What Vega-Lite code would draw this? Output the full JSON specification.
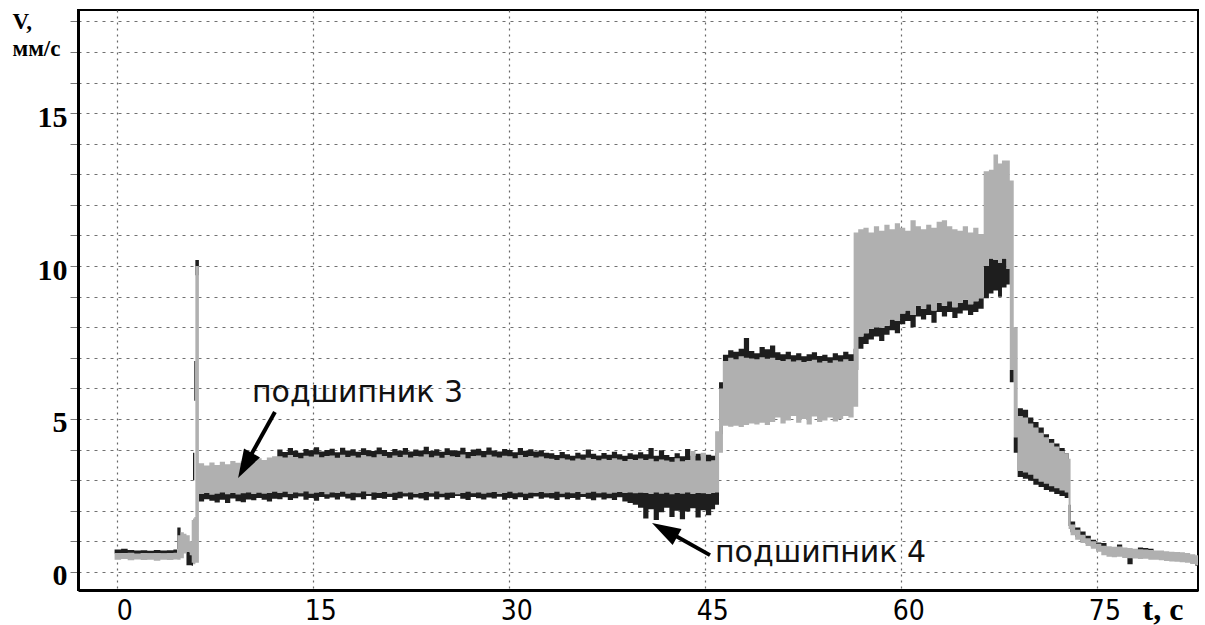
{
  "$schema": "https://vega.github.io/schema/vega-lite/v6.json",
  "width": 1120,
  "height": 580,
  "autosize": {"type": "none"},
  "padding": {"left": 78, "top": 10, "right": 7, "bottom": 35},
  "background": "white",
  "config": {"view": {"stroke": "black", "strokeWidth": 2}},
  "datasets": {
    "bearing4": [
      {"t": -0.2, "lo": 0.60, "hi": 0.73}, {"t": 0.3, "lo": 0.61, "hi": 0.76}, {"t": 0.8, "lo": 0.60, "hi": 0.72},
      {"t": 1.3, "lo": 0.59, "hi": 0.70}, {"t": 1.8, "lo": 0.60, "hi": 0.71}, {"t": 2.3, "lo": 0.60, "hi": 0.69},
      {"t": 2.8, "lo": 0.61, "hi": 0.72}, {"t": 3.3, "lo": 0.60, "hi": 0.70}, {"t": 3.8, "lo": 0.60, "hi": 0.71},
      {"t": 4.3, "lo": 0.61, "hi": 0.73}, {"t": 4.6, "lo": 0.75, "hi": 1.45}, {"t": 4.85, "lo": 0.80, "hi": 1.10},
      {"t": 5.1, "lo": 0.70, "hi": 0.95}, {"t": 5.3, "lo": 0.22, "hi": 0.70}, {"t": 5.55, "lo": 0.22, "hi": 0.62},
      {"t": 5.7, "lo": 0.20, "hi": 0.55}, {"t": 5.8, "lo": 3.00, "hi": 3.90}, {"t": 5.9, "lo": 5.60, "hi": 6.90},
      {"t": 5.98, "lo": 9.70, "hi": 10.20}, {"t": 6.25, "lo": 2.30, "hi": 3.30}, {"t": 6.65, "lo": 2.38, "hi": 3.35},
      {"t": 7.05, "lo": 2.33, "hi": 3.40}, {"t": 7.45, "lo": 2.27, "hi": 3.35}, {"t": 7.85, "lo": 2.36, "hi": 3.40},
      {"t": 8.25, "lo": 2.25, "hi": 3.45}, {"t": 8.65, "lo": 2.40, "hi": 3.40}, {"t": 9.05, "lo": 2.31, "hi": 3.45},
      {"t": 9.45, "lo": 2.28, "hi": 3.50}, {"t": 9.85, "lo": 2.37, "hi": 3.50}, {"t": 10.25, "lo": 2.34, "hi": 3.55},
      {"t": 10.65, "lo": 2.42, "hi": 3.60}, {"t": 11.05, "lo": 2.36, "hi": 3.60}, {"t": 11.45, "lo": 2.30, "hi": 3.65},
      {"t": 11.85, "lo": 2.39, "hi": 3.70}, {"t": 12.25, "lo": 2.38, "hi": 4.00}, {"t": 12.65, "lo": 2.44, "hi": 3.92},
      {"t": 13.05, "lo": 2.35, "hi": 4.05}, {"t": 13.45, "lo": 2.41, "hi": 3.96}, {"t": 13.85, "lo": 2.47, "hi": 3.90},
      {"t": 14.25, "lo": 2.36, "hi": 4.02}, {"t": 14.65, "lo": 2.42, "hi": 3.98}, {"t": 15.05, "lo": 2.33, "hi": 4.08},
      {"t": 15.45, "lo": 2.45, "hi": 3.94}, {"t": 15.85, "lo": 2.39, "hi": 3.99}, {"t": 16.25, "lo": 2.43, "hi": 4.03},
      {"t": 16.65, "lo": 2.37, "hi": 3.91}, {"t": 17.05, "lo": 2.46, "hi": 4.06}, {"t": 17.45, "lo": 2.40, "hi": 3.97},
      {"t": 17.85, "lo": 2.34, "hi": 4.01}, {"t": 18.25, "lo": 2.44, "hi": 3.93}, {"t": 18.65, "lo": 2.38, "hi": 4.04},
      {"t": 19.05, "lo": 2.48, "hi": 3.98}, {"t": 19.45, "lo": 2.36, "hi": 3.95}, {"t": 19.85, "lo": 2.42, "hi": 4.07},
      {"t": 20.25, "lo": 2.39, "hi": 3.99}, {"t": 20.65, "lo": 2.45, "hi": 3.92}, {"t": 21.05, "lo": 2.35, "hi": 4.02},
      {"t": 21.45, "lo": 2.41, "hi": 3.96}, {"t": 21.85, "lo": 2.47, "hi": 4.05}, {"t": 22.25, "lo": 2.37, "hi": 3.94},
      {"t": 22.65, "lo": 2.43, "hi": 4.00}, {"t": 23.05, "lo": 2.40, "hi": 3.97}, {"t": 23.45, "lo": 2.34, "hi": 4.09},
      {"t": 23.85, "lo": 2.46, "hi": 3.95}, {"t": 24.25, "lo": 2.38, "hi": 4.01}, {"t": 24.65, "lo": 2.44, "hi": 3.93},
      {"t": 25.05, "lo": 2.36, "hi": 4.04}, {"t": 25.45, "lo": 2.42, "hi": 3.98}, {"t": 25.85, "lo": 2.48, "hi": 3.96},
      {"t": 26.25, "lo": 2.39, "hi": 4.06}, {"t": 26.65, "lo": 2.35, "hi": 3.92}, {"t": 27.05, "lo": 2.45, "hi": 4.00},
      {"t": 27.45, "lo": 2.41, "hi": 4.03}, {"t": 27.85, "lo": 2.37, "hi": 3.95}, {"t": 28.25, "lo": 2.43, "hi": 4.07},
      {"t": 28.65, "lo": 2.40, "hi": 3.97}, {"t": 29.05, "lo": 2.46, "hi": 3.94}, {"t": 29.45, "lo": 2.36, "hi": 4.02},
      {"t": 29.85, "lo": 2.42, "hi": 3.99}, {"t": 30.25, "lo": 2.38, "hi": 3.91}, {"t": 30.65, "lo": 2.44, "hi": 4.05},
      {"t": 31.05, "lo": 2.35, "hi": 3.96}, {"t": 31.45, "lo": 2.41, "hi": 4.01}, {"t": 31.85, "lo": 2.47, "hi": 3.94},
      {"t": 32.25, "lo": 2.39, "hi": 3.98}, {"t": 32.65, "lo": 2.43, "hi": 3.90}, {"t": 33.05, "lo": 2.40, "hi": 3.88},
      {"t": 33.45, "lo": 2.35, "hi": 3.82}, {"t": 33.85, "lo": 2.44, "hi": 3.92}, {"t": 34.25, "lo": 2.38, "hi": 3.85},
      {"t": 34.65, "lo": 2.42, "hi": 3.80}, {"t": 35.05, "lo": 2.36, "hi": 3.90}, {"t": 35.45, "lo": 2.45, "hi": 3.84},
      {"t": 35.85, "lo": 2.39, "hi": 4.00}, {"t": 36.25, "lo": 2.34, "hi": 3.86}, {"t": 36.65, "lo": 2.43, "hi": 3.81},
      {"t": 37.05, "lo": 2.37, "hi": 3.89}, {"t": 37.45, "lo": 2.41, "hi": 3.83}, {"t": 37.85, "lo": 2.35, "hi": 3.93},
      {"t": 38.25, "lo": 2.44, "hi": 3.85}, {"t": 38.65, "lo": 2.30, "hi": 3.80}, {"t": 39.05, "lo": 2.25, "hi": 3.88},
      {"t": 39.45, "lo": 2.20, "hi": 3.84}, {"t": 39.85, "lo": 2.10, "hi": 3.91}, {"t": 40.25, "lo": 1.75, "hi": 3.85},
      {"t": 40.65, "lo": 2.05, "hi": 4.05}, {"t": 41.05, "lo": 1.70, "hi": 3.80}, {"t": 41.45, "lo": 1.95, "hi": 3.98},
      {"t": 41.85, "lo": 2.10, "hi": 3.82}, {"t": 42.25, "lo": 1.80, "hi": 3.76}, {"t": 42.65, "lo": 2.00, "hi": 3.88},
      {"t": 43.05, "lo": 1.72, "hi": 3.78}, {"t": 43.45, "lo": 1.98, "hi": 4.02}, {"t": 43.85, "lo": 2.08, "hi": 3.80},
      {"t": 44.25, "lo": 1.78, "hi": 3.86}, {"t": 44.65, "lo": 2.02, "hi": 3.77}, {"t": 45.05, "lo": 1.85, "hi": 3.83},
      {"t": 45.45, "lo": 2.05, "hi": 3.80}, {"t": 45.75, "lo": 2.20, "hi": 3.90}, {"t": 46.05, "lo": 4.50, "hi": 6.20},
      {"t": 46.35, "lo": 5.50, "hi": 7.10}, {"t": 46.75, "lo": 5.50, "hi": 7.25}, {"t": 47.15, "lo": 5.50, "hi": 7.20},
      {"t": 47.55, "lo": 5.50, "hi": 7.30}, {"t": 47.95, "lo": 5.50, "hi": 7.65}, {"t": 48.35, "lo": 5.50, "hi": 7.22},
      {"t": 48.75, "lo": 5.50, "hi": 7.15}, {"t": 49.15, "lo": 5.50, "hi": 7.35}, {"t": 49.55, "lo": 5.50, "hi": 7.28},
      {"t": 49.95, "lo": 5.50, "hi": 7.40}, {"t": 50.35, "lo": 5.50, "hi": 7.18}, {"t": 50.75, "lo": 5.50, "hi": 7.12},
      {"t": 51.15, "lo": 5.50, "hi": 7.20}, {"t": 51.55, "lo": 5.50, "hi": 7.08}, {"t": 51.95, "lo": 5.50, "hi": 7.15},
      {"t": 52.35, "lo": 5.50, "hi": 7.05}, {"t": 52.75, "lo": 5.50, "hi": 7.12}, {"t": 53.15, "lo": 5.50, "hi": 7.18},
      {"t": 53.55, "lo": 5.50, "hi": 7.06}, {"t": 53.95, "lo": 5.50, "hi": 7.10}, {"t": 54.35, "lo": 5.50, "hi": 7.02},
      {"t": 54.75, "lo": 5.50, "hi": 7.15}, {"t": 55.15, "lo": 5.50, "hi": 7.08}, {"t": 55.55, "lo": 5.50, "hi": 7.20},
      {"t": 55.95, "lo": 5.50, "hi": 7.12}, {"t": 56.35, "lo": 6.60, "hi": 7.30}, {"t": 56.7, "lo": 7.30, "hi": 7.70},
      {"t": 57.1, "lo": 7.45, "hi": 7.80}, {"t": 57.5, "lo": 7.60, "hi": 7.95}, {"t": 57.9, "lo": 7.70, "hi": 8.00},
      {"t": 58.3, "lo": 7.55, "hi": 7.98}, {"t": 58.7, "lo": 7.75, "hi": 8.05}, {"t": 59.1, "lo": 7.90, "hi": 8.25},
      {"t": 59.5, "lo": 7.80, "hi": 8.20}, {"t": 59.9, "lo": 8.10, "hi": 8.45}, {"t": 60.3, "lo": 8.20, "hi": 8.55},
      {"t": 60.7, "lo": 8.00, "hi": 8.40}, {"t": 61.1, "lo": 8.35, "hi": 8.70}, {"t": 61.5, "lo": 8.25, "hi": 8.60},
      {"t": 61.9, "lo": 8.40, "hi": 8.75}, {"t": 62.3, "lo": 8.15, "hi": 8.55}, {"t": 62.7, "lo": 8.50, "hi": 8.80},
      {"t": 63.1, "lo": 8.35, "hi": 8.70}, {"t": 63.5, "lo": 8.50, "hi": 8.85}, {"t": 63.9, "lo": 8.30, "hi": 8.65},
      {"t": 64.3, "lo": 8.45, "hi": 8.80}, {"t": 64.7, "lo": 8.55, "hi": 8.90}, {"t": 65.1, "lo": 8.40, "hi": 8.75},
      {"t": 65.5, "lo": 8.50, "hi": 8.85}, {"t": 65.9, "lo": 8.60, "hi": 8.95}, {"t": 66.3, "lo": 8.95, "hi": 10.00},
      {"t": 66.7, "lo": 9.10, "hi": 10.25}, {"t": 67.05, "lo": 9.20, "hi": 10.20}, {"t": 67.4, "lo": 9.00, "hi": 10.10},
      {"t": 67.7, "lo": 9.30, "hi": 10.25}, {"t": 68.05, "lo": 9.40, "hi": 9.90}, {"t": 68.3, "lo": 6.20, "hi": 6.60},
      {"t": 68.6, "lo": 3.90, "hi": 4.40}, {"t": 68.9, "lo": 3.10, "hi": 5.35}, {"t": 69.3, "lo": 3.05, "hi": 5.30},
      {"t": 69.7, "lo": 2.98, "hi": 5.05}, {"t": 70.1, "lo": 2.85, "hi": 4.90}, {"t": 70.5, "lo": 2.78, "hi": 4.72},
      {"t": 70.9, "lo": 2.68, "hi": 4.50}, {"t": 71.3, "lo": 2.62, "hi": 4.35}, {"t": 71.7, "lo": 2.55, "hi": 4.20},
      {"t": 72.1, "lo": 2.48, "hi": 4.05}, {"t": 72.5, "lo": 2.42, "hi": 3.88}, {"t": 72.8, "lo": 1.50, "hi": 2.20},
      {"t": 72.95, "lo": 1.30, "hi": 1.65}, {"t": 73.3, "lo": 1.15, "hi": 1.45}, {"t": 73.7, "lo": 1.02, "hi": 1.32},
      {"t": 74.1, "lo": 0.92, "hi": 1.18}, {"t": 74.5, "lo": 0.82, "hi": 1.05}, {"t": 74.9, "lo": 0.72, "hi": 0.96},
      {"t": 75.3, "lo": 0.70, "hi": 0.95}, {"t": 75.7, "lo": 0.60, "hi": 0.75}, {"t": 76.1, "lo": 0.62, "hi": 0.80},
      {"t": 76.5, "lo": 0.65, "hi": 0.90}, {"t": 76.9, "lo": 0.55, "hi": 0.70}, {"t": 77.3, "lo": 0.25, "hi": 0.60},
      {"t": 77.7, "lo": 0.52, "hi": 0.68}, {"t": 78.1, "lo": 0.60, "hi": 0.80}, {"t": 78.5, "lo": 0.62, "hi": 0.78},
      {"t": 78.9, "lo": 0.58, "hi": 0.76}, {"t": 79.3, "lo": 0.50, "hi": 0.65}, {"t": 79.7, "lo": 0.48, "hi": 0.62},
      {"t": 80.1, "lo": 0.45, "hi": 0.60}, {"t": 80.5, "lo": 0.44, "hi": 0.58}, {"t": 80.9, "lo": 0.50, "hi": 0.64},
      {"t": 81.3, "lo": 0.48, "hi": 0.62}, {"t": 81.7, "lo": 0.40, "hi": 0.55}, {"t": 82.1, "lo": 0.30, "hi": 0.50},
      {"t": 82.5, "lo": 0.20, "hi": 0.45}, {"t": 82.7, "lo": 0.20, "hi": 0.45}
    ],
    "bearing3": [
      {"t": -0.2, "lo": 0.40, "hi": 0.62}, {"t": 0.3, "lo": 0.42, "hi": 0.61}, {"t": 0.8, "lo": 0.38, "hi": 0.63},
      {"t": 1.3, "lo": 0.41, "hi": 0.60}, {"t": 1.8, "lo": 0.39, "hi": 0.62}, {"t": 2.3, "lo": 0.40, "hi": 0.61},
      {"t": 2.8, "lo": 0.37, "hi": 0.62}, {"t": 3.3, "lo": 0.40, "hi": 0.60}, {"t": 3.8, "lo": 0.39, "hi": 0.62},
      {"t": 4.3, "lo": 0.41, "hi": 0.63}, {"t": 4.6, "lo": 0.40, "hi": 1.20}, {"t": 4.85, "lo": 0.45, "hi": 1.30},
      {"t": 5.1, "lo": 0.60, "hi": 1.25}, {"t": 5.3, "lo": 0.65, "hi": 1.20}, {"t": 5.55, "lo": 0.55, "hi": 1.00},
      {"t": 5.7, "lo": 0.30, "hi": 1.70}, {"t": 5.8, "lo": 0.25, "hi": 1.75}, {"t": 5.9, "lo": 0.25, "hi": 1.80},
      {"t": 5.98, "lo": 0.30, "hi": 10.00}, {"t": 6.25, "lo": 2.55, "hi": 3.55}, {"t": 6.65, "lo": 2.58, "hi": 3.48},
      {"t": 7.05, "lo": 2.52, "hi": 3.58}, {"t": 7.45, "lo": 2.56, "hi": 3.50}, {"t": 7.85, "lo": 2.60, "hi": 3.60},
      {"t": 8.25, "lo": 2.54, "hi": 3.52}, {"t": 8.65, "lo": 2.58, "hi": 3.63}, {"t": 9.05, "lo": 2.53, "hi": 3.57},
      {"t": 9.45, "lo": 2.57, "hi": 3.62}, {"t": 9.85, "lo": 2.60, "hi": 3.68}, {"t": 10.25, "lo": 2.55, "hi": 3.61},
      {"t": 10.65, "lo": 2.59, "hi": 3.72}, {"t": 11.05, "lo": 2.56, "hi": 3.66}, {"t": 11.45, "lo": 2.58, "hi": 3.74},
      {"t": 11.85, "lo": 2.62, "hi": 3.78}, {"t": 12.25, "lo": 2.58, "hi": 3.78}, {"t": 12.65, "lo": 2.62, "hi": 3.74},
      {"t": 13.05, "lo": 2.55, "hi": 3.82}, {"t": 13.45, "lo": 2.60, "hi": 3.76}, {"t": 13.85, "lo": 2.57, "hi": 3.72},
      {"t": 14.25, "lo": 2.63, "hi": 3.80}, {"t": 14.65, "lo": 2.56, "hi": 3.77}, {"t": 15.05, "lo": 2.59, "hi": 3.84},
      {"t": 15.45, "lo": 2.61, "hi": 3.75}, {"t": 15.85, "lo": 2.54, "hi": 3.79}, {"t": 16.25, "lo": 2.60, "hi": 3.81},
      {"t": 16.65, "lo": 2.58, "hi": 3.73}, {"t": 17.05, "lo": 2.62, "hi": 3.83}, {"t": 17.45, "lo": 2.56, "hi": 3.76},
      {"t": 17.85, "lo": 2.59, "hi": 3.80}, {"t": 18.25, "lo": 2.57, "hi": 3.74}, {"t": 18.65, "lo": 2.63, "hi": 3.82},
      {"t": 19.05, "lo": 2.55, "hi": 3.78}, {"t": 19.45, "lo": 2.60, "hi": 3.75}, {"t": 19.85, "lo": 2.58, "hi": 3.85},
      {"t": 20.25, "lo": 2.61, "hi": 3.79}, {"t": 20.65, "lo": 2.56, "hi": 3.73}, {"t": 21.05, "lo": 2.59, "hi": 3.81},
      {"t": 21.45, "lo": 2.62, "hi": 3.76}, {"t": 21.85, "lo": 2.57, "hi": 3.83}, {"t": 22.25, "lo": 2.60, "hi": 3.74},
      {"t": 22.65, "lo": 2.55, "hi": 3.79}, {"t": 23.05, "lo": 2.58, "hi": 3.77}, {"t": 23.45, "lo": 2.61, "hi": 3.85},
      {"t": 23.85, "lo": 2.57, "hi": 3.75}, {"t": 24.25, "lo": 2.63, "hi": 3.80}, {"t": 24.65, "lo": 2.56, "hi": 3.73},
      {"t": 25.05, "lo": 2.59, "hi": 3.82}, {"t": 25.45, "lo": 2.60, "hi": 3.78}, {"t": 25.85, "lo": 2.54, "hi": 3.76},
      {"t": 26.25, "lo": 2.58, "hi": 3.84}, {"t": 26.65, "lo": 2.62, "hi": 3.72}, {"t": 27.05, "lo": 2.57, "hi": 3.79},
      {"t": 27.45, "lo": 2.60, "hi": 3.81}, {"t": 27.85, "lo": 2.56, "hi": 3.75}, {"t": 28.25, "lo": 2.59, "hi": 3.83},
      {"t": 28.65, "lo": 2.61, "hi": 3.77}, {"t": 29.05, "lo": 2.55, "hi": 3.74}, {"t": 29.45, "lo": 2.58, "hi": 3.80},
      {"t": 29.85, "lo": 2.62, "hi": 3.78}, {"t": 30.25, "lo": 2.57, "hi": 3.72}, {"t": 30.65, "lo": 2.60, "hi": 3.82},
      {"t": 31.05, "lo": 2.56, "hi": 3.76}, {"t": 31.45, "lo": 2.59, "hi": 3.79}, {"t": 31.85, "lo": 2.58, "hi": 3.74},
      {"t": 32.25, "lo": 2.61, "hi": 3.77}, {"t": 32.65, "lo": 2.57, "hi": 3.72}, {"t": 33.05, "lo": 2.58, "hi": 3.70},
      {"t": 33.45, "lo": 2.62, "hi": 3.66}, {"t": 33.85, "lo": 2.56, "hi": 3.72}, {"t": 34.25, "lo": 2.60, "hi": 3.68},
      {"t": 34.65, "lo": 2.57, "hi": 3.64}, {"t": 35.05, "lo": 2.61, "hi": 3.71}, {"t": 35.45, "lo": 2.55, "hi": 3.67},
      {"t": 35.85, "lo": 2.59, "hi": 3.73}, {"t": 36.25, "lo": 2.62, "hi": 3.69}, {"t": 36.65, "lo": 2.57, "hi": 3.65},
      {"t": 37.05, "lo": 2.60, "hi": 3.70}, {"t": 37.45, "lo": 2.56, "hi": 3.66}, {"t": 37.85, "lo": 2.59, "hi": 3.72},
      {"t": 38.25, "lo": 2.61, "hi": 3.68}, {"t": 38.65, "lo": 2.58, "hi": 3.63}, {"t": 39.05, "lo": 2.60, "hi": 3.69},
      {"t": 39.45, "lo": 2.57, "hi": 3.66}, {"t": 39.85, "lo": 2.59, "hi": 3.71}, {"t": 40.25, "lo": 2.58, "hi": 3.66},
      {"t": 40.65, "lo": 2.55, "hi": 3.70}, {"t": 41.05, "lo": 2.60, "hi": 3.62}, {"t": 41.45, "lo": 2.56, "hi": 3.68},
      {"t": 41.85, "lo": 2.59, "hi": 3.64}, {"t": 42.25, "lo": 2.54, "hi": 3.60}, {"t": 42.65, "lo": 2.58, "hi": 3.72},
      {"t": 43.05, "lo": 2.56, "hi": 3.62}, {"t": 43.45, "lo": 2.60, "hi": 3.66}, {"t": 43.85, "lo": 2.55, "hi": 3.95},
      {"t": 44.25, "lo": 2.58, "hi": 3.64}, {"t": 44.65, "lo": 2.57, "hi": 3.90}, {"t": 45.05, "lo": 2.55, "hi": 3.62},
      {"t": 45.45, "lo": 2.58, "hi": 3.65}, {"t": 45.75, "lo": 2.60, "hi": 4.60}, {"t": 46.05, "lo": 3.90, "hi": 6.00},
      {"t": 46.35, "lo": 4.78, "hi": 6.90}, {"t": 46.75, "lo": 4.75, "hi": 7.00}, {"t": 47.15, "lo": 4.78, "hi": 6.95},
      {"t": 47.55, "lo": 4.74, "hi": 7.05}, {"t": 47.95, "lo": 4.80, "hi": 7.00}, {"t": 48.35, "lo": 4.85, "hi": 6.98},
      {"t": 48.75, "lo": 4.82, "hi": 6.95}, {"t": 49.15, "lo": 4.88, "hi": 7.02}, {"t": 49.55, "lo": 4.80, "hi": 6.97},
      {"t": 49.95, "lo": 4.90, "hi": 7.00}, {"t": 50.35, "lo": 5.05, "hi": 6.93}, {"t": 50.75, "lo": 4.85, "hi": 6.90},
      {"t": 51.15, "lo": 4.95, "hi": 6.95}, {"t": 51.55, "lo": 5.10, "hi": 6.88}, {"t": 51.95, "lo": 4.88, "hi": 6.92},
      {"t": 52.35, "lo": 5.00, "hi": 6.86}, {"t": 52.75, "lo": 4.82, "hi": 6.90}, {"t": 53.15, "lo": 5.08, "hi": 6.94},
      {"t": 53.55, "lo": 4.90, "hi": 6.85}, {"t": 53.95, "lo": 4.95, "hi": 6.90}, {"t": 54.35, "lo": 5.05, "hi": 6.84},
      {"t": 54.75, "lo": 4.92, "hi": 6.92}, {"t": 55.15, "lo": 5.00, "hi": 6.88}, {"t": 55.55, "lo": 5.10, "hi": 6.95},
      {"t": 55.95, "lo": 5.05, "hi": 6.90}, {"t": 56.35, "lo": 5.40, "hi": 11.10}, {"t": 56.7, "lo": 7.70, "hi": 11.20},
      {"t": 57.1, "lo": 7.80, "hi": 11.25}, {"t": 57.5, "lo": 7.95, "hi": 11.10}, {"t": 57.9, "lo": 8.00, "hi": 11.30},
      {"t": 58.3, "lo": 7.98, "hi": 11.15}, {"t": 58.7, "lo": 8.05, "hi": 11.35}, {"t": 59.1, "lo": 8.25, "hi": 11.20},
      {"t": 59.5, "lo": 8.20, "hi": 11.40}, {"t": 59.9, "lo": 8.45, "hi": 11.25}, {"t": 60.3, "lo": 8.55, "hi": 11.15},
      {"t": 60.7, "lo": 8.40, "hi": 11.50}, {"t": 61.1, "lo": 8.70, "hi": 11.30}, {"t": 61.5, "lo": 8.60, "hi": 11.20},
      {"t": 61.9, "lo": 8.75, "hi": 11.35}, {"t": 62.3, "lo": 8.55, "hi": 11.25}, {"t": 62.7, "lo": 8.80, "hi": 11.45},
      {"t": 63.1, "lo": 8.70, "hi": 11.50}, {"t": 63.5, "lo": 8.85, "hi": 11.30}, {"t": 63.9, "lo": 8.65, "hi": 11.20},
      {"t": 64.3, "lo": 8.80, "hi": 11.15}, {"t": 64.7, "lo": 8.90, "hi": 11.30}, {"t": 65.1, "lo": 8.75, "hi": 11.10},
      {"t": 65.5, "lo": 8.85, "hi": 11.25}, {"t": 65.9, "lo": 8.95, "hi": 11.05}, {"t": 66.3, "lo": 10.00, "hi": 13.10},
      {"t": 66.7, "lo": 10.25, "hi": 13.15}, {"t": 67.05, "lo": 10.20, "hi": 13.65}, {"t": 67.4, "lo": 10.10, "hi": 13.35},
      {"t": 67.7, "lo": 10.25, "hi": 13.45}, {"t": 68.05, "lo": 9.90, "hi": 13.45}, {"t": 68.3, "lo": 6.60, "hi": 12.80},
      {"t": 68.6, "lo": 4.40, "hi": 8.00}, {"t": 68.9, "lo": 3.30, "hi": 5.10}, {"t": 69.3, "lo": 3.25, "hi": 5.05},
      {"t": 69.7, "lo": 3.18, "hi": 4.85}, {"t": 70.1, "lo": 3.05, "hi": 4.72}, {"t": 70.5, "lo": 2.95, "hi": 4.55},
      {"t": 70.9, "lo": 2.88, "hi": 4.40}, {"t": 71.3, "lo": 2.80, "hi": 4.22}, {"t": 71.7, "lo": 2.74, "hi": 4.10},
      {"t": 72.1, "lo": 2.66, "hi": 3.95}, {"t": 72.5, "lo": 2.60, "hi": 3.88}, {"t": 72.8, "lo": 1.40, "hi": 3.70},
      {"t": 72.95, "lo": 1.20, "hi": 1.55}, {"t": 73.3, "lo": 1.05, "hi": 1.38}, {"t": 73.7, "lo": 0.95, "hi": 1.22},
      {"t": 74.1, "lo": 0.85, "hi": 1.10}, {"t": 74.5, "lo": 0.76, "hi": 1.00}, {"t": 74.9, "lo": 0.66, "hi": 0.92},
      {"t": 75.3, "lo": 0.55, "hi": 0.86}, {"t": 75.7, "lo": 0.50, "hi": 0.84}, {"t": 76.1, "lo": 0.48, "hi": 0.82},
      {"t": 76.5, "lo": 0.50, "hi": 0.83}, {"t": 76.9, "lo": 0.46, "hi": 0.80}, {"t": 77.3, "lo": 0.45, "hi": 0.78},
      {"t": 77.7, "lo": 0.44, "hi": 0.76}, {"t": 78.1, "lo": 0.42, "hi": 0.74}, {"t": 78.5, "lo": 0.43, "hi": 0.73},
      {"t": 78.9, "lo": 0.40, "hi": 0.72}, {"t": 79.3, "lo": 0.40, "hi": 0.70}, {"t": 79.7, "lo": 0.38, "hi": 0.70},
      {"t": 80.1, "lo": 0.36, "hi": 0.68}, {"t": 80.5, "lo": 0.34, "hi": 0.66}, {"t": 80.9, "lo": 0.33, "hi": 0.65},
      {"t": 81.3, "lo": 0.32, "hi": 0.64}, {"t": 81.7, "lo": 0.30, "hi": 0.62}, {"t": 82.1, "lo": 0.26, "hi": 0.58},
      {"t": 82.5, "lo": 0.22, "hi": 0.55}, {"t": 82.7, "lo": 0.22, "hi": 0.55}
    ],
    "arrowShafts": [
      {"t": 12.07, "lo": 5.23, "t2": 9.92, "hi": 3.58},
      {"t": 45.36, "lo": 0.55, "t2": 42.13, "hi": 1.32}
    ],
    "arrowHeads": [
      {"t": 9.25, "lo": 3.07, "dir": 209},
      {"t": 40.92, "lo": 1.60, "dir": 299}
    ],
    "labels": [
      {"t": 10.31, "lo": 5.56, "label": "подшипник 3"},
      {"t": 45.74, "lo": 0.32, "label": "подшипник 4"}
    ]
  },
  "encoding": {
    "x": {
      "field": "t", "type": "quantitative",
      "scale": {"domain": [-3, 82.7], "nice": false, "zero": false},
      "axis": {
        "values": [0, 15, 30, 45, 60, 75],
        "grid": true, "gridColor": "#666", "gridDash": [2, 4], "gridWidth": 1.2,
        "domainColor": "black", "domainWidth": 3,
        "ticks": false,
        "labelFont": "DejaVu Sans Condensed, Liberation Sans Narrow, sans-serif",
        "labelFontSize": 28, "labelColor": "black", "labelPadding": 7, "labelOffset": 7,
        "title": "t, c",
        "titleFont": "Liberation Serif", "titleFontWeight": "bold", "titleFontSize": 32, "titleColor": "black",
        "titleAlign": "left", "titleBaseline": "alphabetic", "titleX": 1064, "titleY": 29
      }
    },
    "y": {
      "field": "lo", "type": "quantitative",
      "scale": {"domain": [-0.59, 18.37], "nice": false, "zero": false},
      "axis": {
        "values": [0, 1, 2, 3, 4, 5, 6, 7, 8, 9, 10, 11, 12, 13, 14, 15, 16, 17, 18],
        "labelExpr": "datum.value % 5 === 0 ? datum.label : ''",
        "labelOverlap": false,
        "grid": true, "gridColor": "#707070", "gridDash": [3, 5], "gridWidth": 1,
        "domainColor": "black", "domainWidth": 3,
        "tickSize": 8, "tickColor": "#777", "tickWidth": 1,
        "labelFont": "Liberation Serif", "labelFontWeight": "bold", "labelFontSize": 30,
        "labelColor": "black", "labelPadding": 3, "labelOffset": 4,
        "title": ["V,", "мм/с"],
        "titleFont": "Liberation Serif", "titleFontWeight": "bold", "titleFontSize": 23,
        "titleColor": "black", "titleAngle": 0, "titleAlign": "left", "titleBaseline": "alphabetic",
        "titleLineHeight": 27, "titleX": -66, "titleY": 18
      }
    }
  },
  "layer": [
    {
      "data": {"name": "bearing4"},
      "mark": {"type": "area", "orient": "vertical", "interpolate": "step-after", "color": "#1e1e1e"},
      "encoding": {"y2": {"field": "hi"}}
    },
    {
      "data": {"name": "bearing3"},
      "mark": {"type": "area", "orient": "vertical", "interpolate": "step-after", "color": "#b0b0b0"},
      "encoding": {"y2": {"field": "hi"}}
    },
    {
      "data": {"name": "arrowShafts"},
      "mark": {"type": "rule", "color": "black", "strokeWidth": 4, "strokeCap": "butt"},
      "encoding": {"x2": {"field": "t2"}, "y2": {"field": "hi"}}
    },
    {
      "data": {"name": "arrowHeads"},
      "mark": {"type": "point", "shape": "M0,0L0.7,2.2L-0.7,2.2Z", "size": 680, "filled": true, "color": "black", "opacity": 1},
      "encoding": {"angle": {"field": "dir", "type": "quantitative", "scale": null}}
    },
    {
      "data": {"name": "labels"},
      "mark": {"type": "text", "align": "left", "baseline": "alphabetic", "font": "DejaVu Sans", "fontSize": 30, "color": "#111"},
      "encoding": {"text": {"field": "label"}}
    }
  ]
}
